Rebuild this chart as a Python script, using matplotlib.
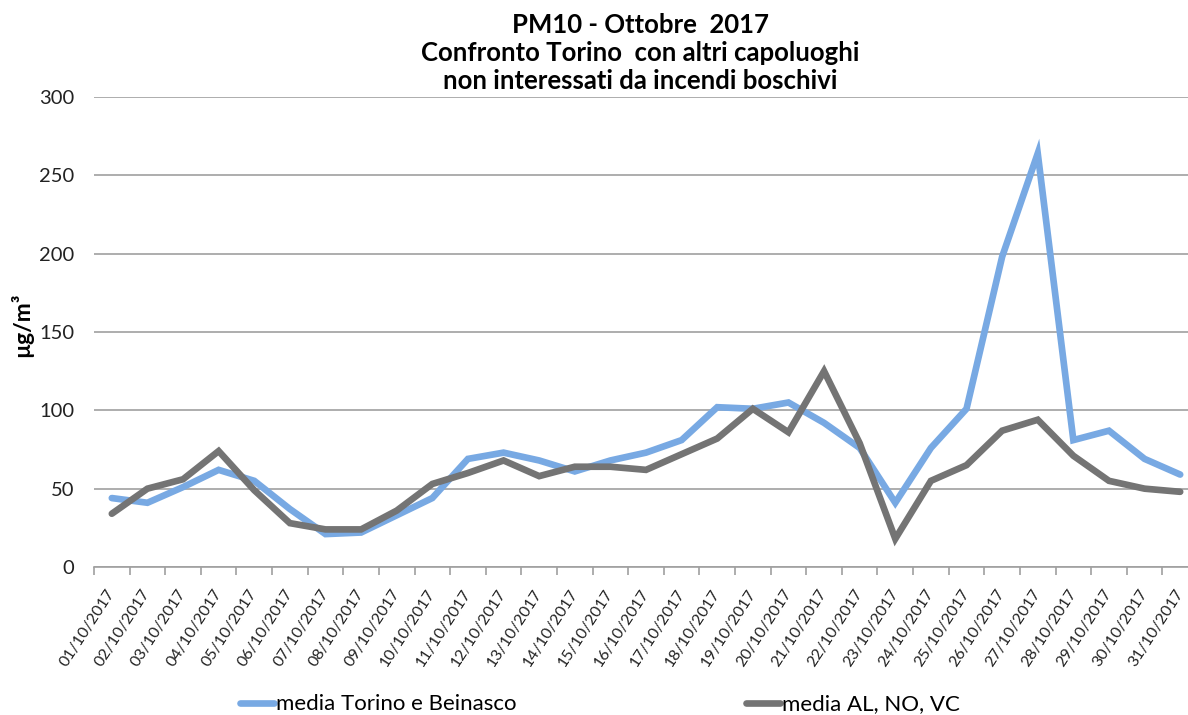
import matplotlib
matplotlib.use("Agg")
import matplotlib.pyplot as plt
from matplotlib.ticker import FixedLocator, NullFormatter
from matplotlib.transforms import ScaledTranslation

plt.rcParams['font.family'] = ['Lato', 'DejaVu Sans']

dates = [f"{d:02d}/10/2017" for d in range(1, 32)]

torino_beinasco = [44, 41, 51, 62, 55, 37, 21, 22, 33, 44, 69, 73, 68, 61, 68, 73, 81,
                   102, 101, 105, 92, 76, 41, 76, 101, 198, 264, 81, 87, 69, 59]
al_no_vc = [34, 50, 56, 74, 49, 28, 24, 24, 36, 53, 60, 68, 58, 64, 64, 62, 72,
            82, 101, 86, 125, 79, 18, 55, 65, 87, 94, 71, 55, 50, 48]

blue = '#78A9E3'
grey = '#747474'

fig = plt.figure(figsize=(11.88, 7.15), dpi=100)
ax = fig.add_axes([94 / 1188, 148 / 715, 1104 / 1188, 470 / 715])

x = list(range(len(dates)))
l1, = ax.plot(x, torino_beinasco, color=blue, lw=4.8, solid_joinstyle='miter',
              solid_capstyle='round', label='media Torino e Beinasco', zorder=3)
l2, = ax.plot(x, al_no_vc, color=grey, lw=4.8, solid_joinstyle='miter',
              solid_capstyle='round', label='media AL, NO, VC', zorder=4)

ax.set_xlim(-0.5, len(dates) - 0.5)
ax.set_ylim(0, 300)
ax.set_yticks(range(0, 301, 50))
ax.tick_params(axis='y', length=0, pad=14, labelsize=14.5, labelcolor='#222222')
ax.grid(axis='y', color='#A0A0A0', lw=1.2)
ax.set_axisbelow(True)

ax.set_xticks(x)
ax.set_xticklabels(dates, rotation=57, ha='right', rotation_mode='anchor',
                   fontsize=11.5, color='#222222')
ax.tick_params(axis='x', which='major', length=0, pad=14)
shift = ScaledTranslation(-6 / 100, 0, fig.dpi_scale_trans)
for lbl in ax.get_xticklabels():
    lbl.set_transform(lbl.get_transform() + shift)
ax.xaxis.set_minor_locator(FixedLocator([i - 0.5 for i in range(len(dates) + 1)]))
ax.xaxis.set_minor_formatter(NullFormatter())
ax.tick_params(axis='x', which='minor', length=6, color='#A0A0A0', width=1.2)

for side in ('left', 'right', 'top'):
    ax.spines[side].set_visible(False)
ax.spines['bottom'].set_color('#A0A0A0')
ax.spines['bottom'].set_linewidth(1.2)

fig.text(22 / 1188, 1 - 325 / 715, 'µg/m³', rotation=90, ha='center', va='center',
         fontsize=16.5, fontweight='bold')

fig.text(0.539, 0.982, 'PM10 - Ottobre  2017\nConfronto Torino  con altri capoluoghi\nnon interessati da incendi boschivi',
         ha='center', va='top', fontsize=18.5, fontweight='bold', linespacing=1.2)

fig.legend(handles=[l1, l2], loc='lower center', bbox_to_anchor=(0.505, -0.027), ncol=2,
           frameon=False, fontsize=16, handlelength=1.55, handletextpad=0.1,
           columnspacing=10.3)

fig.savefig('out.png', dpi=100)
